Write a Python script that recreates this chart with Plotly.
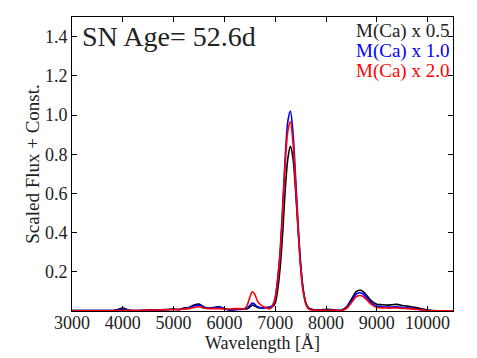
import plotly.graph_objects as go

# wavelength grid (Angstrom), finer around H-alpha and the [Ca II] peak
wavelength = [3000, 3100, 3200, 3300, 3400, 3500, 3600, 3700, 3800, 3900,
              4000, 4100, 4200, 4300, 4400, 4500, 4600, 4700, 4800, 4900,
              5000, 5100, 5200, 5300, 5400, 5500, 5600, 5700, 5800, 5900,
              6000, 6100, 6200, 6300, 6400,
              6450, 6500, 6550, 6600, 6650, 6700, 6750, 6800, 6850, 6900,
              6950, 7000, 7050, 7100, 7150, 7200, 7250, 7300, 7350, 7400,
              7450, 7500, 7550, 7600, 7650, 7700,
              7800, 7900, 8000, 8100, 8200, 8300, 8400, 8500, 8600, 8700,
              8800, 8900, 9000, 9100, 9200, 9300, 9400, 9500, 9600, 9700,
              9800, 9900, 10000, 10100, 10200, 10300, 10400, 10500]

flux_ca05 = [0.002, 0.002, 0.002, 0.002, 0.002, 0.002, 0.002, 0.002, 0.002, 0.008,
             0.015, 0.006, 0.002, 0.002, 0.003, 0.005, 0.006, 0.006, 0.007, 0.008,
             0.010, 0.008, 0.015, 0.018, 0.030, 0.035, 0.020, 0.015, 0.018, 0.022,
             0.012, 0.005, 0.006, 0.008, 0.010,
             0.012, 0.020, 0.030, 0.025, 0.018, 0.016, 0.016, 0.018, 0.019, 0.020,
             0.022, 0.040, 0.110, 0.230, 0.410, 0.630, 0.780, 0.840, 0.780, 0.620,
             0.420, 0.240, 0.110, 0.045, 0.018, 0.010,
             0.005, 0.006, 0.008, 0.007, 0.004, 0.004, 0.020, 0.060, 0.100, 0.105,
             0.080, 0.050, 0.035, 0.032, 0.030, 0.032, 0.034, 0.028, 0.025, 0.020,
             0.016, 0.010, 0.005, 0.002, 0.001, 0.001, 0.001, 0.001]

flux_ca10 = [0.002, 0.002, 0.002, 0.002, 0.002, 0.002, 0.002, 0.002, 0.002, 0.005,
             0.010, 0.005, 0.002, 0.002, 0.003, 0.004, 0.005, 0.005, 0.006, 0.007,
             0.008, 0.007, 0.012, 0.016, 0.026, 0.030, 0.018, 0.014, 0.016, 0.020,
             0.011, 0.006, 0.008, 0.010, 0.012,
             0.016, 0.028, 0.040, 0.034, 0.022, 0.018, 0.015, 0.015, 0.016, 0.020,
             0.030, 0.070, 0.170, 0.320, 0.550, 0.800, 0.970, 1.020, 0.910, 0.690,
             0.450, 0.240, 0.110, 0.040, 0.015, 0.008,
             0.004, 0.004, 0.005, 0.005, 0.003, 0.003, 0.015, 0.050, 0.088, 0.092,
             0.068, 0.040, 0.025, 0.022, 0.020, 0.020, 0.022, 0.018, 0.016, 0.013,
             0.010, 0.006, 0.003, 0.001, 0.001, 0.001, 0.001, 0.001]

flux_ca20 = [0.001, 0.001, 0.001, 0.001, 0.001, 0.001, 0.001, 0.001, 0.001, 0.002,
             0.004, 0.003, 0.002, 0.002, 0.003, 0.004, 0.005, 0.005, 0.006, 0.006,
             0.008, 0.007, 0.010, 0.012, 0.018, 0.022, 0.014, 0.012, 0.012, 0.012,
             0.010, 0.010, 0.012, 0.012, 0.013,
             0.030, 0.070, 0.098, 0.085, 0.050, 0.035, 0.025, 0.018, 0.014, 0.012,
             0.025, 0.065, 0.160, 0.300, 0.520, 0.760, 0.920, 0.965, 0.860, 0.650,
             0.420, 0.220, 0.100, 0.040, 0.012, 0.006,
             0.003, 0.003, 0.004, 0.004, 0.002, 0.002, 0.012, 0.042, 0.074, 0.078,
             0.058, 0.032, 0.018, 0.016, 0.015, 0.015, 0.016, 0.013, 0.012, 0.010,
             0.008, 0.005, 0.002, 0.001, 0.001, 0.001, 0.001, 0.001]

labels = ['M(Ca) x 0.5', 'M(Ca) x 1.0', 'M(Ca) x 2.0']
colors = ['black', 'blue', 'red']
age_text = 'SN Age= 52.6d'

x_ticks = [3000, 4000, 5000, 6000, 7000, 8000, 9000, 10000]
x_ticktext = ['3000', '4000', '5000', '6000', '7000', '8000', '9000', '10000']
y_ticks = [0.2, 0.4, 0.6, 0.8, 1.0, 1.2, 1.4]
y_ticktext = ['0.2', '0.4', '0.6', '0.8', '1.0', '1.2', '1.4']

serif = 'Liberation Serif'
ink = '#222222'

fig = go.Figure()
for flux, lab, col in zip([flux_ca05, flux_ca10, flux_ca20], labels, colors):
    fig.add_trace(go.Scatter(x=wavelength, y=flux, mode='lines', name=lab,
                             line=dict(color=col, width=1.6, shape='spline', smoothing=0.8)))

fig.update_layout(
    width=477, height=358,
    margin=dict(l=72, r=24, t=17, b=47),
    paper_bgcolor='white', plot_bgcolor='white',
    showlegend=False,
    font=dict(family=serif, size=18, color=ink),
)

fig.update_xaxes(range=[3000, 10500], tickvals=x_ticks, ticktext=x_ticktext,
                 ticks='inside', ticklen=5, tickcolor='black', showline=True,
                 linecolor='black', linewidth=1, mirror='ticks', showgrid=False,
                 zeroline=False, automargin=False, ticklabelstandoff=-5,
                 title=dict(text='Wavelength [Å]', standoff=0, font=dict(size=18)))
fig.update_yaxes(range=[0, 1.5], tickvals=y_ticks, ticktext=y_ticktext,
                 ticks='inside', ticklen=5, tickcolor='black', showline=True,
                 linecolor='black', linewidth=1, mirror='ticks', showgrid=False,
                 zeroline=False, automargin=False,
                 title=dict(text='Scaled Flux + Const.', standoff=0, font=dict(size=19)))

fig.add_annotation(x=0.02, y=0.935, xref='paper', yref='paper', text=age_text,
                   showarrow=False, xanchor='left', yanchor='middle',
                   font=dict(family=serif, size=28, color=ink))
for i, (lab, col) in enumerate(zip(labels, colors)):
    fig.add_annotation(x=0.995, y=0.952 - i * 0.068, xref='paper', yref='paper', text=lab,
                       showarrow=False, xanchor='right', yanchor='middle',
                       font=dict(family=serif, size=19, color=ink if col == 'black' else col))

# page body has a default margin; remove it so the figure sits at the window origin
fig.write_html("out.html", config={'displayModeBar': False},
               post_script="document.body.style.margin = '0';")
